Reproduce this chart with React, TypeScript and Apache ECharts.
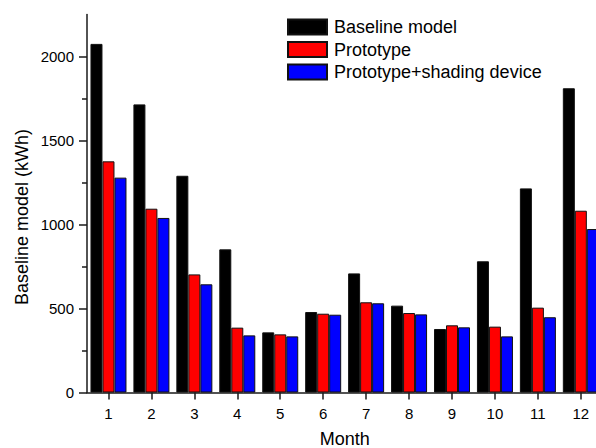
import React, { useEffect, useRef } from 'react';
import * as echarts from 'echarts';

const months = ['1', '2', '3', '4', '5', '6', '7', '8', '9', '10', '11', '12'];
const baselineModel = [2075, 1715, 1290, 852, 358, 479, 709, 517, 378, 781, 1215, 1811];
const prototype = [1376, 1094, 703, 386, 346, 469, 537, 473, 400, 392, 505, 1082];
const prototypeShading = [1279, 1039, 644, 340, 334, 463, 531, 465, 388, 334, 448, 973];
const seriesNames = ['Baseline model', 'Prototype', 'Prototype+shading device'];
const seriesColors = ['#000000', '#ff0000', '#0000ff'];

const FONT = '"Liberation Sans", Arial, Helvetica, sans-serif';

export default function App() {
  const ref = useRef<HTMLDivElement>(null);
  useEffect(() => {
    if (!ref.current) return;
    const chart = echarts.init(ref.current, null, { renderer: 'svg' });
    const lineStyle = { color: '#1a1a1a', width: 1.5 };
    const W = 515.3;
    const hiddenX = (gridIndex: number) => ({
      type: 'category' as const,
      gridIndex,
      data: months,
      show: false,
    });
    const data = [baselineModel, prototype, prototypeShading];
    const gridBase = { left: 87, width: W, containLabel: false, outerBoundsMode: 'none' };
    chart.setOption({
      animation: false,
      backgroundColor: '#ffffff',
      textStyle: { fontFamily: FONT },
      grid: [
        { ...gridBase, top: 14.5, bottom: 55.5 },
        { ...gridBase, top: 56.5, bottom: 55.5 },
        { ...gridBase, top: 98.5, bottom: 97.5 },
      ],
      legend: {
        orient: 'vertical',
        left: 287,
        top: 18,
        padding: 0,
        itemWidth: 39,
        itemHeight: 15,
        itemGap: 4.5,
        icon: 'rect',
        data: seriesNames,
        textStyle: { fontFamily: FONT, fontSize: 18, color: '#000', lineHeight: 18, padding: [0, 0, 0, 2] },
      },
      xAxis: [
        {
          type: 'category',
          gridIndex: 0,
          data: months,
          axisLine: { show: true, lineStyle },
          axisTick: { show: true, alignWithLabel: true, length: 7, lineStyle },
          axisLabel: { fontFamily: FONT, fontSize: 15, color: '#000', margin: 13 },
          name: 'Month',
          nameLocation: 'middle',
          nameGap: 37,
          nameTextStyle: { fontFamily: FONT, fontSize: 18, color: '#000' },
          splitLine: { show: false },
        },
        hiddenX(1),
        hiddenX(2),
      ],
      yAxis: [
        {
          type: 'value',
          gridIndex: 0,
          min: 0,
          max: 2250,
          interval: 250,
          axisLine: { show: true, lineStyle },
          axisTick: { show: false },
          axisLabel: { show: false },
          splitLine: { show: false },
        },
        {
          type: 'value',
          gridIndex: 1,
          min: 0,
          max: 2000,
          interval: 500,
          axisLine: { show: false },
          axisTick: { show: true, length: 8, lineStyle },
          axisLabel: {
            show: true,
            fontFamily: FONT,
            fontSize: 15,
            color: '#000',
            margin: 13,
            formatter: (v: number) => String(v),
          },
          splitLine: { show: false },
        },
        {
          type: 'value',
          gridIndex: 2,
          min: 250,
          max: 1750,
          interval: 500,
          axisLine: { show: false },
          axisTick: { show: true, length: 5, lineStyle },
          axisLabel: { show: false },
          splitLine: { show: false },
        },
      ],
      graphic: [
        {
          type: 'text',
          x: 22,
          y: 217,
          rotation: Math.PI / 2,
          style: {
            text: 'Baseline model (kWh)',
            font: `18px ${FONT}`,
            fill: '#000',
            align: 'center',
            verticalAlign: 'middle',
            textAlign: 'center',
            textVerticalAlign: 'middle',
          },
        },
      ],
      series: seriesNames.map((name, i) => ({
        name,
        type: 'bar',
        xAxisIndex: 0,
        yAxisIndex: 0,
        barWidth: 12,
        barGap: '0%',
        data: data[i],
        itemStyle: { color: seriesColors[i], borderColor: '#111', borderWidth: 1 },
      })),
    });
    return () => chart.dispose();
  }, []);
  return (
    <div
      ref={ref}
      style={{ position: 'absolute', left: 0, top: 0, width: 596, height: 448, background: '#fff' }}
    />
  );
}
